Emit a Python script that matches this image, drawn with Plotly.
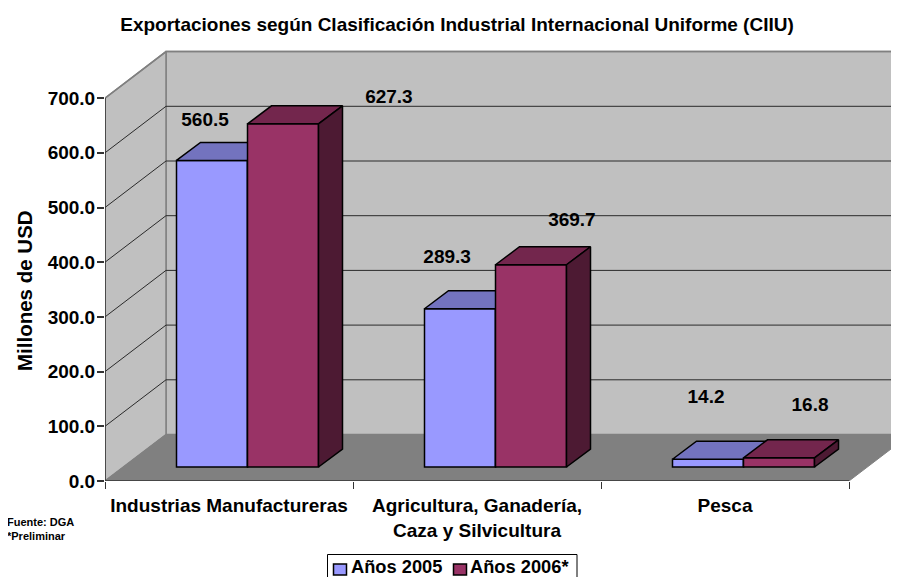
import plotly.graph_objects as go

categories = ["Industrias Manufactureras", "Agricultura, Ganadería,<br>Caza y Silvicultura", "Pesca"]
series_names = ["Años 2005", "Años 2006*"]
values_2005 = [560.5, 289.3, 14.2]
values_2006 = [627.3, 369.7, 16.8]
y_ticks = [0, 100, 200, 300, 400, 500, 600, 700]
y_tick_labels = ["0.0", "100.0", "200.0", "300.0", "400.0", "500.0", "600.0", "700.0"]

# Oblique-projection geometry, in axis units
PX_X, PX_Y = 248.0, 0.547
X_MAX, Y_MAX = (899 - 105) / PX_X, (481 - 40) / PX_Y
WALL_DX, WALL_DY = 61 / PX_X, 46.5 / PX_Y
BAR_DX, BAR_DY = 24 / PX_X, 18 / PX_Y
BAR_BASE = 14 / PX_Y
BAR_START, BAR_W = 71.5 / PX_X, 71.0 / PX_X
LABEL_DX = [[-0.028, -0.052, -0.008], [0.427, 0.165, 0.125]]
LABEL_LIFT = [[97.5, 118.7, 137.8], [72.7, 105.3, 119.2]]
FONT = "Liberation Sans, Arial, sans-serif"
GRID = "#2a2a2a"
EDGE = "#808080"
STYLE = [("#9999FF", "#7373BF", "#4D4D80"), ("#993366", "#73264D", "#4D1A33")]

fig = go.Figure()


def poly(xs, ys, fill, line, width, ax="", mode="lines"):
    fig.add_trace(go.Scatter(x=xs, y=ys, mode=mode, fill="toself", fillcolor=fill,
                             line=dict(color=line, width=width), showlegend=False,
                             hoverinfo="skip", xaxis="x" + ax, yaxis="y" + ax))


def seg(xs, ys, color, width, ax=""):
    fig.add_trace(go.Scatter(x=xs, y=ys, mode="lines", line=dict(color=color, width=width),
                             showlegend=False, hoverinfo="skip", xaxis="x" + ax, yaxis="y" + ax))


def px(x):
    return (x - 105) / 794


def py(y):
    return (481 - y) / 441


top = y_ticks[-1]
# back wall, side wall, floor
poly([WALL_DX, 3 + WALL_DX, 3 + WALL_DX, WALL_DX, WALL_DX],
     [WALL_DY, WALL_DY, top + WALL_DY, top + WALL_DY, WALL_DY], "#C0C0C0", EDGE, 1.5)
poly([0, WALL_DX, WALL_DX, 0, 0], [0, WALL_DY, top + WALL_DY, top, 0], "#C0C0C0", EDGE, 1.5)
poly([0, 3, 3 + WALL_DX, WALL_DX, 0], [0, 0, WALL_DY, WALL_DY, 0], "#808080", EDGE, 1)

# gridlines
gx, gy = [], []
for v in y_ticks[1:-1]:
    gx += [0, WALL_DX, 3 + WALL_DX, None]
    gy += [v, v + WALL_DY, v + WALL_DY, None]
seg(gx, gy, GRID, 1)
seg([0, WALL_DX, 3 + WALL_DX], [top, top + WALL_DY, top + WALL_DY], EDGE, 1.5)

# axis lines
seg([0, 0], [0, top], "#333333", 1.5)
seg([0, 3], [0, 0], "#333333", 1.5)

# bars: each series on its own overlaid axes so the later series covers the earlier one
for s, vals in enumerate([values_2005, values_2006]):
    ax = str(s + 2)
    front, roof, side = STYLE[s]
    off = BAR_START + s * BAR_W
    fig.add_trace(go.Bar(x=[0, 1, 2], y=vals, base=BAR_BASE, width=BAR_W, offset=off,
                         name=series_names[s], showlegend=False,
                         marker=dict(color=front, line=dict(color="black", width=1.5)),
                         hoverinfo="skip", xaxis="x" + ax, yaxis="y" + ax))
    for i, v in enumerate(vals):
        x0 = i + off
        x1 = x0 + BAR_W
        y0 = BAR_BASE
        y1 = BAR_BASE + v
        poly([x0, x1, x1 + BAR_DX, x0 + BAR_DX, x0],
             [y1, y1, y1 + BAR_DY, y1 + BAR_DY, y1], roof, "black", 1.5, ax)
        poly([x1, x1 + BAR_DX, x1 + BAR_DX, x1, x1],
             [y0, y0 + BAR_DY, y1 + BAR_DY, y1, y0], side, "black", 1.5, ax)

# data labels
lx, ly, lt = [], [], []
for s, vals in enumerate([values_2005, values_2006]):
    for i, v in enumerate(vals):
        lx.append(i + BAR_START + (s + 0.5) * BAR_W + LABEL_DX[s][i])
        ly.append(v + LABEL_LIFT[s][i])
        lt.append(f"{v:.1f}")
fig.add_trace(go.Scatter(x=lx, y=ly, mode="text", text=lt, textposition="middle center",
                         textfont=dict(family=FONT, size=19, color="black"),
                         showlegend=False, hoverinfo="skip", xaxis="x3", yaxis="y3",
                         texttemplate="<b>%{text}</b>"))

# legend box with tight swatch-to-text spacing; its lower edge runs off the page as in the source
shapes = [dict(type="rect", xref="paper", yref="paper", x0=px(327.5), x1=px(577), y0=py(554.5), y1=py(580),
               line=dict(color="black", width=1), fillcolor="white")]
annotations = [
    dict(text="<b>Millones de USD</b>", xref="paper", yref="paper", x=px(24), y=py(291),
         textangle=-90, showarrow=False, font=dict(size=20.5, family=FONT, color="black"), xanchor="center", yanchor="middle"),
    dict(text="<b>Fuente: DGA</b>", xref="paper", yref="paper", x=px(5), y=py(522),
         showarrow=False, font=dict(size=11, family=FONT, color="black"), xanchor="left", yanchor="middle"),
    dict(text="<b>*Preliminar</b>", xref="paper", yref="paper", x=px(5), y=py(536),
         showarrow=False, font=dict(size=11, family=FONT, color="black"), xanchor="left", yanchor="middle"),
]
for s, (sw0, sw1, tx) in enumerate([(333.5, 346.5, 349), (453.5, 466.5, 468)]):
    shapes.append(dict(type="rect", xref="paper", yref="paper", x0=px(sw0), x1=px(sw1), y0=py(564), y1=py(575),
                       line=dict(color="black", width=1.5), fillcolor=STYLE[s][0]))
    annotations.append(dict(text=f"<b>{series_names[s]}</b>", xref="paper", yref="paper", x=px(tx), y=py(566.5),
                            showarrow=False, font=dict(size=18.3, family=FONT, color="black"),
                            xanchor="left", yanchor="middle"))

hidden = dict(visible=False, fixedrange=True)
fig.update_layout(
    width=891, height=569, autosize=False, showlegend=False,
    margin=dict(l=97, r=0, t=32, b=96, pad=0, autoexpand=False),
    paper_bgcolor="white", plot_bgcolor="white",
    font=dict(family=FONT, color="black"),
    title=dict(text="<b>Exportaciones según Clasificación Industrial Internacional Uniforme (CIIU)</b>",
               x=449 / 891, xanchor="center", y=1 - 16 / 569, yanchor="middle",
               font=dict(size=19, family=FONT, color="black")),
    xaxis=dict(range=[0, X_MAX], tickmode="array", tickvals=[0.5, 1.5, 2.5], ticktext=[f"<b>{c}</b>" for c in categories],
               ticks="outside", ticklen=7, tickcolor="rgba(0,0,0,0)", showgrid=False, zeroline=False,
               showline=False, tickangle=0, tickfont=dict(size=19, family=FONT, color="black"),
               minor=dict(tickmode="array", tickvals=[0, 1, 2, 3], ticks="outside", ticklen=7, tickwidth=1, tickcolor="#333333", showgrid=False)),
    yaxis=dict(range=[0, Y_MAX], tickmode="array", tickvals=y_ticks, ticktext=[f"<b>{t}</b>" for t in y_tick_labels],
               ticks="outside", ticklen=7, tickwidth=1.5, tickcolor="#333333", showgrid=False, zeroline=False,
               ticklabelstandoff=-2, showline=False, tickfont=dict(size=19, family=FONT, color="black")),
    xaxis2=dict(range=[0, X_MAX], overlaying="x", **hidden),
    yaxis2=dict(range=[0, Y_MAX], overlaying="y", **hidden),
    xaxis3=dict(range=[0, X_MAX], overlaying="x", **hidden),
    yaxis3=dict(range=[0, Y_MAX], overlaying="y", **hidden),
    shapes=shapes,
    annotations=annotations,
)

fig.write_html("out.html")
